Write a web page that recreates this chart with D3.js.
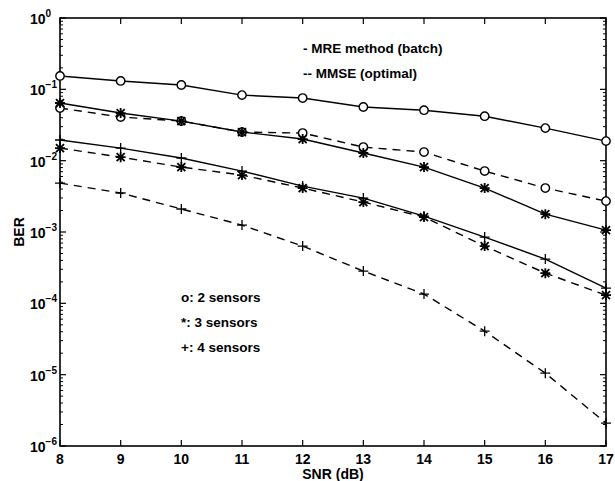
<!DOCTYPE html>
<html>
<head>
<meta charset="utf-8">
<title>BER vs SNR</title>
<script src="https://cdn.jsdelivr.net/npm/d3@7"></script>
<style>
  body { margin: 0; background: #fff; }
  text { font-family: "Liberation Sans", Arial, sans-serif; fill: #000; }
</style>
</head>
<body>
<svg width="615" height="481"></svg>
<script>
// SNR (dB)
var snr = [8, 9, 10, 11, 12, 13, 14, 15, 16, 17];

// BER values
var mre2  = [0.154, 0.131, 0.115, 0.083, 0.0755, 0.0565, 0.051, 0.042, 0.0286, 0.0188];
var mmse2 = [0.0547, 0.0409, 0.0359, 0.0252, 0.0244, 0.0155, 0.0132, 0.00715, 0.00413, 0.00271];
var mre3  = [0.0643, 0.0465, 0.0359, 0.0252, 0.0201, 0.0128, 0.00813, 0.00413, 0.00178, 0.00106];
var mmse3 = [0.0150, 0.0112, 0.00813, 0.00628, 0.00413, 0.00263, 0.00162, 0.000634, 0.000265, 0.000130];
var mre4  = [0.0195, 0.0150, 0.0109, 0.00715, 0.00440, 0.00299, 0.00167, 0.000848, 0.000417, 0.000163];
var mmse4 = [0.00485, 0.00352, 0.00210, 0.00125, 0.000634, 0.000283, 0.000135, 0.0000407, 0.0000105, 0.00000209];

var yExponents = [0, -1, -2, -3, -4, -5, -6];
var legendLines = ["- MRE method (batch)", "-- MMSE (optimal)"];
var sensorNotes = ["o: 2 sensors", "*: 3 sensors", "+: 4 sensors"];

var series = [
  { values: mre2,  marker: "o", dashed: false },
  { values: mmse2, marker: "o", dashed: true },
  { values: mre3,  marker: "*", dashed: false },
  { values: mmse3, marker: "*", dashed: true },
  { values: mre4,  marker: "+", dashed: false },
  { values: mmse4, marker: "+", dashed: true }
];

var pL = 60, pR = 606, pT = 18, pB = 446;

var svg = d3.select("svg");
var x = d3.scaleLinear().domain([8, 17]).range([pL, pR]);
var y = d3.scaleLog().domain([1e-6, 1]).range([pB, pT]);

var g = svg.append("g");

// minor y ticks (log) on both sides
var minor = [];
for (var e = -6; e < 0; e++) {
  for (var m = 2; m <= 9; m++) minor.push(m * Math.pow(10, e));
}
g.selectAll(".minl").data(minor).enter().append("line")
  .attr("x1", pL).attr("x2", pL + 3)
  .attr("y1", function(d) { return y(d); }).attr("y2", function(d) { return y(d); })
  .attr("stroke", "#000").attr("stroke-width", 1);
g.selectAll(".minr").data(minor).enter().append("line")
  .attr("x1", pR).attr("x2", pR - 3)
  .attr("y1", function(d) { return y(d); }).attr("y2", function(d) { return y(d); })
  .attr("stroke", "#000").attr("stroke-width", 1);

// major y ticks
var majors = yExponents.map(function(e) { return Math.pow(10, e); });
g.selectAll(".majl").data(majors).enter().append("line")
  .attr("x1", pL).attr("x2", pL + 6)
  .attr("y1", function(d) { return y(d); }).attr("y2", function(d) { return y(d); })
  .attr("stroke", "#000").attr("stroke-width", 1.2);
g.selectAll(".majr").data(majors).enter().append("line")
  .attr("x1", pR).attr("x2", pR - 6)
  .attr("y1", function(d) { return y(d); }).attr("y2", function(d) { return y(d); })
  .attr("stroke", "#000").attr("stroke-width", 1.2);

// x ticks top and bottom
g.selectAll(".xb").data(snr).enter().append("line")
  .attr("x1", function(d) { return x(d); }).attr("x2", function(d) { return x(d); })
  .attr("y1", pB).attr("y2", pB - 6)
  .attr("stroke", "#000").attr("stroke-width", 1.2);
g.selectAll(".xt").data(snr).enter().append("line")
  .attr("x1", function(d) { return x(d); }).attr("x2", function(d) { return x(d); })
  .attr("y1", pT).attr("y2", pT + 6)
  .attr("stroke", "#000").attr("stroke-width", 1.2);

// box
g.append("rect")
  .attr("x", pL).attr("y", pT)
  .attr("width", pR - pL).attr("height", pB - pT)
  .attr("fill", "none").attr("stroke", "#000").attr("stroke-width", 1.6);

// x tick labels
g.selectAll(".xl").data(snr).enter().append("text")
  .attr("x", function(d) { return x(d); })
  .attr("y", pB + 18)
  .attr("text-anchor", "middle")
  .attr("font-size", 14).attr("font-weight", "bold")
  .text(function(d) { return d; });

// y tick labels 10^e
var yl = g.selectAll(".yl").data(yExponents).enter().append("text")
  .attr("x", 30)
  .attr("y", function(d) { return y(Math.pow(10, d)) + 6; })
  .attr("font-size", 14).attr("font-weight", "bold");
yl.append("tspan").text("10");
yl.append("tspan")
  .attr("dy", -7).attr("font-size", 10)
  .text(function(d) { return d === 0 ? "0" : "\u2212" + (-d); });

// axis titles
g.append("text")
  .attr("x", (pL + pR) / 2).attr("y", pB + 33)
  .attr("text-anchor", "middle")
  .attr("font-size", 14).attr("font-weight", "bold")
  .text("SNR (dB)");
g.append("text")
  .attr("transform", "translate(24," + ((pT + pB) / 2) + ") rotate(-90)")
  .attr("text-anchor", "middle")
  .attr("font-size", 14).attr("font-weight", "bold")
  .text("BER");

// lines
var line = d3.line()
  .x(function(d, i) { return x(snr[i]); })
  .y(function(d) { return y(d); });

g.selectAll(".series").data(series).enter().append("path")
  .attr("d", function(s) { return line(s.values); })
  .attr("fill", "none").attr("stroke", "#000").attr("stroke-width", 1.4)
  .attr("stroke-dasharray", function(s) { return s.dashed ? "8,6" : null; });

// markers
series.forEach(function(s) {
  var pts = g.append("g").selectAll("g").data(s.values).enter().append("g")
    .attr("transform", function(d, i) { return "translate(" + x(snr[i]) + "," + y(d) + ")"; });
  if (s.marker === "o") {
    pts.append("circle").attr("r", 4.2)
      .attr("fill", "#fff").attr("stroke", "#000").attr("stroke-width", 1.4);
  } else if (s.marker === "*") {
    pts.append("path")
      .attr("d", "M-5,0H5M0,-5V5M-4,-4L4,4M-4,4L4,-4")
      .attr("stroke", "#000").attr("stroke-width", 1.8);
  } else {
    pts.append("path")
      .attr("d", "M-5,0H5M0,-5V5")
      .attr("stroke", "#000").attr("stroke-width", 1.3);
  }
});

// legend text
g.selectAll(".leg").data(legendLines).enter().append("text")
  .attr("x", 303)
  .attr("y", function(d, i) { return 53 + i * 25; })
  .attr("font-size", 13.5).attr("font-weight", "bold")
  .text(function(d) { return d; });

g.selectAll(".note").data(sensorNotes).enter().append("text")
  .attr("x", 181)
  .attr("y", function(d, i) { return 302 + i * 25; })
  .attr("font-size", 13.5).attr("font-weight", "bold")
  .text(function(d) { return d; });
</script>
</body>
</html>
